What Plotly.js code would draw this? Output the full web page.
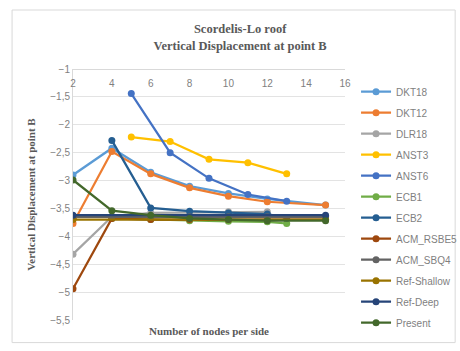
<!DOCTYPE html>
<html><head><meta charset="utf-8">
<script src="https://cdn.plot.ly/plotly-3.0.1.min.js"></script>
<style>html,body{margin:0;padding:0;background:#fff}#chart{width:460px;height:351px}</style>
</head><body><div id="chart"></div>
<script>
// Data
const seriesNames = ["DKT18","DKT12","DLR18","ANST3","ANST6","ECB1","ECB2","ACM_RSBE5","ACM_SBQ4","Ref-Shallow","Ref-Deep","Present"];
const xDKT18 = [2,4,6,8,10,12,15];
const yDKT18 = [-2.90,-2.42,-2.85,-3.10,-3.23,-3.33,-3.44];
const xDKT12 = [2,4,6,8,10,12,15];
const yDKT12 = [-3.77,-2.48,-2.88,-3.13,-3.28,-3.38,-3.44];
const xDLR18 = [2,4,6,8,10,12];
const yDLR18 = [-4.32,-3.65,-3.58,-3.57,-3.56,-3.56];
const xANST3 = [5,7,9,11,13];
const yANST3 = [-2.22,-2.30,-2.62,-2.68,-2.88];
const xANST6 = [5,7,9,11,13];
const yANST6 = [-1.44,-2.50,-2.96,-3.25,-3.37];
const xECB1 = [4,6,8,10,12,13];
const yECB1 = [-3.68,-3.70,-3.72,-3.73,-3.74,-3.77];
const xECB2 = [4,6,8,10,12,13];
const yECB2 = [-2.28,-3.49,-3.55,-3.58,-3.60,-3.67];
const xACM_RSBE5 = [2,4,6,8,10,12,15];
const yACM_RSBE5 = [-4.94,-3.68,-3.70,-3.70,-3.70,-3.70,-3.70];
const xACM_SBQ4 = [2,4,6,8,10,12,15];
const yACM_SBQ4 = [-3.65,-3.65,-3.65,-3.65,-3.65,-3.65,-3.65];
const xRefShallow = [2,15];
const yRefShallow = [-3.70,-3.70];
const xRefDeep = [2,15];
const yRefDeep = [-3.62,-3.62];
const xPresent = [2,4,6,8,10,12,15];
const yPresent = [-2.99,-3.54,-3.62,-3.68,-3.70,-3.72,-3.72];
const xTickVals = [2,4,6,8,10,12,14,16];
const yTickVals = [-1,-1.5,-2,-2.5,-3,-3.5,-4,-4.5,-5,-5.5];

const colors = ["#5B9BD5","#ED7D31","#A5A5A5","#FFC000","#4472C4","#70AD47","#255E91","#9E480E","#636363","#997300","#264478","#43682B"];
const xs = [xDKT18,xDKT12,xDLR18,xANST3,xANST6,xECB1,xECB2,xACM_RSBE5,xACM_SBQ4,xRefShallow,xRefDeep,xPresent];
const ys = [yDKT18,yDKT12,yDLR18,yANST3,yANST6,yECB1,yECB2,yACM_RSBE5,yACM_SBQ4,yRefShallow,yRefDeep,yPresent];

const traces = seriesNames.map((n,i)=>({
  type:'scatter', mode:'lines+markers', name:n, x:xs[i], y:ys[i],
  legendgroup:'g'+i,
  line:{color:colors[i], width:2.25},
  marker:{color:colors[i], size:7, symbol:'circle'}
}));

const gray = '#7f7f7f';
const layout = {
  width:460, height:351,
  margin:{l:73, r:115, t:69, b:31},
  paper_bgcolor:'#ffffff', plot_bgcolor:'#ffffff',
  separators:', ',
  font:{family:'"Liberation Sans", Arial, sans-serif', size:10, color:gray},
  title:{text:'Scordelis-Lo roof<br>Vertical Displacement at point B',
    font:{family:'"Liberation Serif", "Times New Roman", serif', size:12.5, color:'#595959', weight:'bold'},
    x:0.522, xanchor:'center', xref:'container', y:0.905, yref:'container', yanchor:'top'},
  xaxis:{range:[2,16], tickvals:xTickVals, side:'bottom', anchor:'free', position:1,
    showgrid:false, zeroline:false, showline:true, linecolor:'#d9d9d9', linewidth:1,
    ticks:'outside', ticklen:5, tickcolor:'rgba(0,0,0,0)', tickfont:{size:10, color:gray}, fixedrange:true},
  yaxis:{range:[-5.5,-1], domain:[0,1], tickvals:yTickVals, showgrid:true, gridcolor:'#e3e3e3', gridwidth:1,
    zeroline:false, showline:true, linecolor:'#d9d9d9', ticks:'', tickfont:{size:10, color:gray},
    title:{text:'Vertical Displacement at point B', standoff:12,
      font:{family:'"Liberation Serif", "Times New Roman", serif', size:11, color:'#595959', weight:'bold'}},
    automargin:false},
  legend:{xref:'container', yref:'container', x:0.774, xanchor:'left', y:0.78, yanchor:'top',
    traceorder:'grouped', tracegroupgap:2, maxheight:320,
    font:{size:10, color:gray}, bgcolor:'rgba(0,0,0,0)', itemwidth:30},
  showlegend:true,
  annotations:[{text:'Number of nodes per side', xref:'paper', yref:'paper', x:0.5, y:-0.044,
    xanchor:'center', yanchor:'middle', showarrow:false,
    font:{family:'"Liberation Serif", "Times New Roman", serif', size:11, color:'#595959', weight:'bold'}}],
  shapes:[{type:'rect', xref:'paper', yref:'paper', x0:-0.224, x1:1.405, y0:-0.09, y1:1.235,
    line:{color:'#d9d9d9', width:1}, fillcolor:'rgba(0,0,0,0)', layer:'below'}]
};
Plotly.newPlot('chart', traces, layout, {displayModeBar:false, staticPlot:true});
</script></body></html>
